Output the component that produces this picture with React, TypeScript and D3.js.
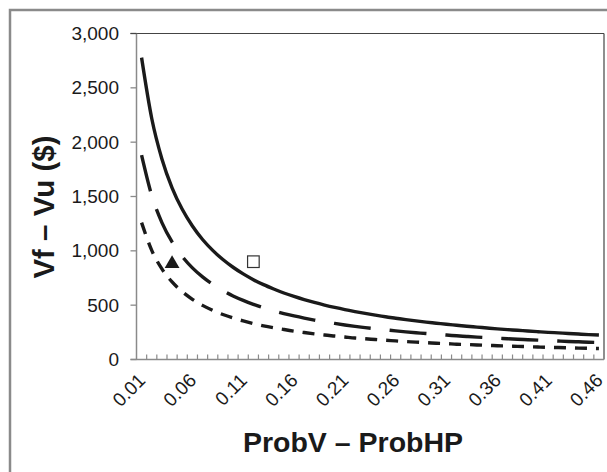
import React from "react";
import * as d3 from "d3";

const categories: string[] = [
  "0.01","0.02","0.03","0.04","0.05","0.06","0.07","0.08","0.09","0.10",
  "0.11","0.12","0.13","0.14","0.15","0.16","0.17","0.18","0.19","0.20",
  "0.21","0.22","0.23","0.24","0.25","0.26","0.27","0.28","0.29","0.30",
  "0.31","0.32","0.33","0.34","0.35","0.36","0.37","0.38","0.39","0.40",
  "0.41","0.42","0.43","0.44","0.45","0.46",
];

const seriesSolid: number[] = [
  2778, 2218, 1846, 1580, 1382, 1228, 1104, 1004, 920, 849,
  788, 735, 689, 649, 612, 580, 551, 525, 501, 479,
  459, 441, 424, 408, 393, 380, 367, 355, 344, 334,
  324, 315, 306, 298, 290, 282, 275, 269, 262, 256,
  250, 245, 239, 234, 229, 225,
];

const seriesLongDash: number[] = [
  1880, 1509, 1260, 1082, 948, 843, 760, 691, 634, 585,
  544, 508, 476, 448, 423, 401, 381, 363, 347, 332,
  318, 305, 293, 283, 273, 263, 254, 246, 239, 231,
  225, 218, 212, 206, 201, 196, 191, 186, 182, 178,
  174, 170, 166, 163, 159, 156,
];

const seriesShortDash: number[] = [
  1260, 1004, 834, 714, 624, 554, 498, 452, 414, 382,
  355, 331, 310, 292, 276, 261, 248, 236, 225, 216,
  207, 198, 191, 184, 177, 171, 165, 160, 155, 150,
  146, 141, 138, 134, 130, 127, 124, 121, 118, 115,
  112, 110, 108, 105, 103, 101,
];

const yTicks: number[] = [0, 500, 1000, 1500, 2000, 2500, 3000];
const xLabelCats: string[] = ["0.01","0.06","0.11","0.16","0.21","0.26","0.31","0.36","0.41","0.46"];

const triangleCat = "0.04";
const triangleValue = 890;
const squareCat = "0.12";
const squareValue = 900;

const xTitle = "ProbV \u2013 ProbHP";
const yTitle = "Vf \u2013 Vu ($)";

export default function App() {
  const left = 136.5;
  const right = 604;
  const top = 33.5;
  const bottom = 359.5;

  const x = d3.scaleBand<string>().domain(categories).range([left, right]).padding(0);
  const bw = x.bandwidth();
  const cx = (c: string) => (x(c) as number) + bw / 2;
  const y = d3.scaleLinear().domain([0, 3000]).range([bottom, top]);

  const line = d3
    .line<number>()
    .x((_, i) => cx(categories[i]))
    .y((d) => y(d))
    .curve(d3.curveMonotoneX);

  const fmt = d3.format(",");
  const font = "'Liberation Sans', Arial, Helvetica, sans-serif";
  const gray = "#8a8a8a";
  const ink = "#1a1a1a";

  const tri = d3.symbol().type(d3.symbolTriangle).size(95)();

  return (
    <svg
      width={607}
      height={472}
      style={{ position: "absolute", left: 0, top: 0, background: "#fff" }}
      fontFamily={font}
    >
      <rect x={0} y={0} width={607} height={472} fill="#fff" />
      {/* outer frame */}
      <rect x={10} y={10} width={640} height={520} fill="none" stroke={gray} strokeWidth={2.5} />

      {/* plot border top/right */}
      <line x1={left - 6} x2={right} y1={top} y2={top} stroke="#444" strokeWidth={1.2} />
      <line x1={right} x2={right} y1={top} y2={bottom} stroke="#444" strokeWidth={1.2} />

      {/* y axis */}
      <line x1={left} x2={left} y1={top} y2={bottom} stroke={gray} strokeWidth={1.5} />
      {yTicks.map((t) => (
        <g key={t}>
          <line x1={left - 6} x2={left} y1={y(t)} y2={y(t)} stroke={t === 3000 ? "#444" : gray} strokeWidth={1.3} />
          <text x={119} y={y(t) + 6.5} textAnchor="end" fontSize={19} fill={ink}>
            {fmt(t)}
          </text>
        </g>
      ))}

      {/* x axis */}
      <line x1={left - 6} x2={right} y1={bottom} y2={bottom} stroke={gray} strokeWidth={1.5} />
      {categories.slice(1).map((c) => (
        <line
          key={c}
          x1={x(c) as number}
          x2={x(c) as number}
          y1={bottom}
          y2={bottom - 5}
          stroke={gray}
          strokeWidth={1.2}
        />
      ))}
      {xLabelCats.map((c) => (
        <text
          key={c}
          transform={`translate(${cx(c) + 5},${bottom + 22}) rotate(-45)`}
          textAnchor="end"
          fontSize={19}
          fill={ink}
        >
          {c}
        </text>
      ))}

      {/* series */}
      <path d={line(seriesSolid) || ""} fill="none" stroke={ink} strokeWidth={3.4} />
      <path
        d={line(seriesLongDash) || ""}
        fill="none"
        stroke={ink}
        strokeWidth={3.4}
        strokeDasharray="37,19"
      />
      <path
        d={line(seriesShortDash) || ""}
        fill="none"
        stroke={ink}
        strokeWidth={3.4}
        strokeDasharray="12,9"
      />

      {/* markers */}
      <path d={tri || ""} transform={`translate(${cx(triangleCat)},${y(triangleValue) + 1})`} fill={ink} />
      <rect
        x={cx(squareCat) - 5.8}
        y={y(squareValue) - 5.8}
        width={11.6}
        height={11.6}
        fill="#fff"
        stroke="#333"
        strokeWidth={1.2}
      />

      {/* titles */}
      <text x={353} y={452} textAnchor="middle" fontSize={28.5} fontWeight="bold" fill={ink}>
        {xTitle}
      </text>
      <text
        transform={`translate(54,207) rotate(-90)`}
        textAnchor="middle"
        fontSize={29.5}
        fontWeight="bold"
        fill={ink}
      >
        {yTitle}
      </text>
    </svg>
  );
}
